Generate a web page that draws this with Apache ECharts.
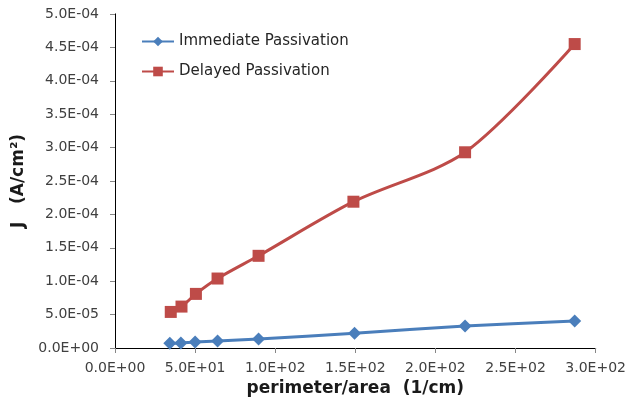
<!DOCTYPE html>
<html lang="en">
<head>
    <meta charset="UTF-8">
    <title>J vs perimeter/area</title>
    <script src="https://cdn.jsdelivr.net/npm/echarts@6/dist/echarts.min.js"></script>
    <style>
        html, body { margin: 0; padding: 0; background: #fff; }
    </style>
</head>
<body>
    <div id="main" style="width: 629px; height: 412px"></div>
<script>
    // data
    var seriesNames = ['Immediate Passivation', 'Delayed Passivation'];
    var immX = [34.2, 41.1, 50.0, 64.0, 89.6, 149.5, 218.5, 286.9];
    var immY = [7.0e-6, 7.5e-6, 9.0e-6, 1.05e-5, 1.35e-5, 2.2e-5, 3.3e-5, 4.05e-5];
    var delX = [34.8, 41.5, 50.5, 64.0, 89.6, 148.8, 218.5, 286.9];
    var delY = [5.4e-5, 6.2e-5, 8.1e-5, 1.04e-4, 1.38e-4, 2.19e-4, 2.93e-4, 4.55e-4];

    function pairs(xs, ys) {
        var out = [];
        for (var i = 0; i < xs.length; i++) out.push([xs[i], ys[i]]);
        return out;
    }

    // Excel style 0.0E+00 labels
    function sci(v) {
        if (v === 0) return '0.0E+00';
        var e = Math.floor(Math.log10(Math.abs(v)) + 1e-9);
        var m = v / Math.pow(10, e);
        var s = e < 0 ? '-' : '+';
        var ea = Math.abs(e);
        return m.toFixed(1) + 'E' + s + (ea < 10 ? '0' : '') + ea;
    }

    var font = 'DejaVu Sans, sans-serif';
    var chart = echarts.init(document.getElementById('main'));
    chart.setOption({
        animation: false,
        textStyle: { fontFamily: font },
        grid: { left: 115, right: 32, top: 14, bottom: 64 },
        legend: {
            data: seriesNames,
            orient: 'vertical',
            left: 136,
            top: 29,
            itemGap: 15,
            itemWidth: 32,
            itemHeight: 12,
            textStyle: { fontSize: 15, color: '#262626', fontFamily: font }
        },
        xAxis: [{
            type: 'value',
            min: 0, max: 300, interval: 50,
            name: 'perimeter/area  (1/cm)',
            nameLocation: 'middle',
            nameGap: 31,
            nameTextStyle: { fontSize: 17, fontWeight: 'bold', color: '#1a1a1a' },
            axisLine: { lineStyle: { color: '#868686' } },
            axisTick: { show: true, length: 5, lineStyle: { color: '#868686' } },
            axisLabel: { formatter: sci, fontSize: 14, color: '#404040', margin: 13 },
            splitLine: { show: false }
        }, {
            type: 'value', position: 'top', min: 0, max: 300,
            axisLine: { show: true, lineStyle: { color: '#000' } },
            axisTick: { show: false }, axisLabel: { show: false }, splitLine: { show: false }
        }],
        yAxis: [{
            type: 'value',
            min: 0, max: 5e-4, interval: 5e-5,
            name: 'J   (A/cm²)',
            nameLocation: 'middle',
            nameGap: 88,
            nameTextStyle: { fontSize: 17, fontWeight: 'bold', color: '#1a1a1a' },
            axisLine: { show: true, lineStyle: { color: '#868686' } },
            axisTick: { show: true, length: 5, lineStyle: { color: '#868686' } },
            axisLabel: { formatter: sci, fontSize: 14, color: '#404040', margin: 16 },
            splitLine: { show: false }
        }, {
            type: 'value', position: 'right', min: 0, max: 5e-4,
            axisLine: { show: true, lineStyle: { color: '#000' } },
            axisTick: { show: false }, axisLabel: { show: false }, splitLine: { show: false }
        }],
        series: [{
            name: seriesNames[0],
            type: 'line',
            smooth: 0.3,
            data: pairs(immX, immY),
            symbol: 'diamond',
            symbolSize: 13,
            itemStyle: { color: '#4A7EBB' },
            lineStyle: { color: '#4A7EBB', width: 3 }
        }, {
            name: seriesNames[1],
            type: 'line',
            smooth: 0.3,
            data: pairs(delX, delY),
            symbol: 'rect',
            symbolSize: 12,
            itemStyle: { color: '#BE4B48' },
            lineStyle: { color: '#BE4B48', width: 3 }
        }]
    });
</script>
</body>
</html>
